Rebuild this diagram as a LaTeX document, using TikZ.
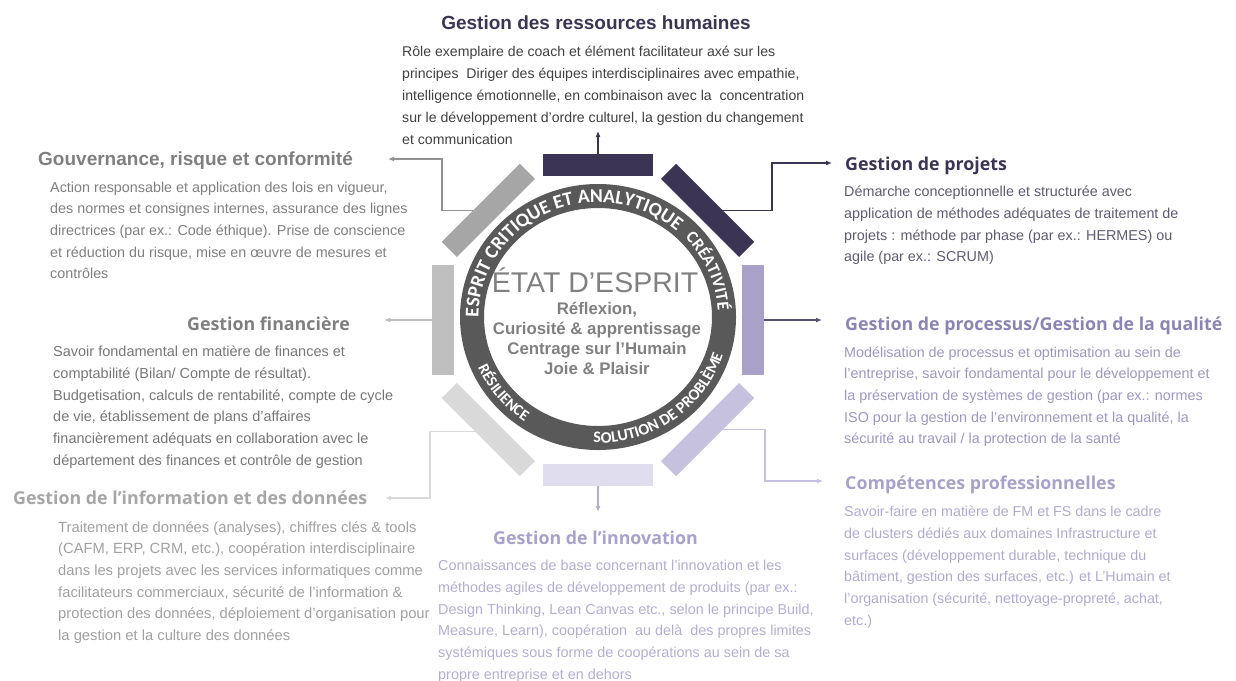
\documentclass[tikz,border=0pt]{standalone}
\usepackage{fontspec}
\setmainfont{Liberation Sans}
\newfontfamily\osans{Open Sans}
\newfontfamily\carlito{Carlito}
\usetikzlibrary{arrows.meta,decorations.text}
\definecolor{dpurp}{HTML}{3C3454}
\definecolor{hrbody}{HTML}{404040}
\definecolor{govcol}{HTML}{7F7F7F}
\definecolor{fincol}{HTML}{7F7F7F}
\definecolor{finbody}{HTML}{767676}
\definecolor{infocol}{HTML}{A6A6A6}
\definecolor{infobody}{HTML}{A0A0A0}
\definecolor{projbody}{HTML}{5F5A72}
\definecolor{prochead}{HTML}{8C84B4}
\definecolor{procbody}{HTML}{9D96C2}
\definecolor{comphead}{HTML}{A8A1C9}
\definecolor{compbody}{HTML}{B0AAD0}
\definecolor{innohead}{HTML}{A8A1C9}
\definecolor{innobody}{HTML}{B3ADD2}
\definecolor{barR}{HTML}{A9A1C7}
\definecolor{barBR}{HTML}{C6C1DE}
\definecolor{barB}{HTML}{E0DDEE}
\definecolor{barBL}{HTML}{D9D9D9}
\definecolor{barL}{HTML}{BFBFBF}
\definecolor{barTL}{HTML}{A6A6A6}
\definecolor{ringcol}{HTML}{595959}
\definecolor{centcol}{HTML}{808080}
\tikzset{
  bodytxt/.style={anchor=north west, inner sep=0pt, align=left, font=\fontsize{#1}{21.7}\selectfont},
  bodytxt/.default=14.4,
  headA/.style={anchor=base west, inner sep=0pt, font=\fontsize{19}{22}\selectfont\bfseries},
  headB/.style={anchor=base west, inner sep=0pt, font=\osans\fontsize{17.8}{22}\selectfont\bfseries},
  barbox/.style={minimum width=110pt, minimum height=21pt, inner sep=0pt, draw=none},
  conn/.style={line width=1.2pt, -{Latex[length=6pt,width=5pt]}},
  ringtxt/.style 2 args={decorate, decoration={text along path, text align=center,
     text={|\carlito\bfseries\fontsize{#1}{#1}\selectfont\color{white}|#2}}}
}
\begin{document}
\begin{tikzpicture}[x=1pt,y=-1pt]
\useasboundingbox (0,0) rectangle (1236,680);

% ---------- headings ----------
\node[headA, anchor=base, text=dpurp] (hHR) at (596,29.5) {Gestion des ressources humaines};
\node[headA, text=govcol] (hGov) at (38,165.5) {Gouvernance, risque et conformité};
\node[headB, anchor=base east, text=fincol] (hFin) at (350,330.5) {Gestion financière};
\node[headB, text=infocol] (hInfo) at (13,504.5) {Gestion de l’information et des données};
\node[headB, text=innohead] (hInno) at (493,544.5) {Gestion de l’innovation};
\node[headB, text=dpurp] (hProj) at (845,170) {Gestion de projets};
\node[headB, text=prochead] (hProc) at (845,330) {Gestion de processus/Gestion de la qualité};
\node[headB, text=comphead] (hComp) at (845,489.5) {Compétences professionnelles};

% ---------- body texts ----------
\node[bodytxt, text=hrbody, font=\fontsize{14.1}{22}\selectfont] (tHR) at (402,41) {\strut Rôle exemplaire de coach et élément facilitateur axé sur les\\
principes\ \ Diriger des équipes interdisciplinaires avec empathie,\\
intelligence émotionnelle, en combinaison avec la\ \ concentration\\
sur le développement d’ordre culturel, la gestion du changement\\
et communication};

\node[bodytxt=14.35, text=govcol] (tGov) at (50,176.8) {\strut Action responsable et application des lois en vigueur,\\
des normes et consignes internes, assurance des lignes\\
directrices (par ex.: Code éthique). Prise de conscience\\
et réduction du risque, mise en œuvre de mesures et\\
contrôles};

\node[bodytxt=14.5, text=finbody] (tFin) at (53,341.5) {\strut Savoir fondamental en matière de finances et\\
comptabilité (Bilan/ Compte de résultat).\\
Budgetisation, calculs de rentabilité, compte de cycle\\
de vie, établissement de plans d’affaires\\
financièrement adéquats en collaboration avec le\\
département des finances et contrôle de gestion};

\node[bodytxt=14.75, text=infobody] (tInfo) at (58,516.8) {\strut Traitement de données (analyses), chiffres clés \& tools\\
(CAFM, ERP, CRM, etc.), coopération interdisciplinaire\\
dans les projets avec les services informatiques comme\\
facilitateurs commerciaux, sécurité de l’information \&\\
protection des données, déploiement d’organisation pour\\
la gestion et la culture des données};

\node[bodytxt=14.4, text=innobody] (tInno) at (438,555.5) {\strut Connaissances de base concernant l’innovation et les\\
méthodes agiles de développement de produits (par ex.:\\
Design Thinking, Lean Canvas etc., selon le principe Build,\\
Measure, Learn), coopération\ \ au delà\ \ des propres limites\\
systémiques sous forme de coopérations au sein de sa\\
propre entreprise et en dehors};

\node[bodytxt=14.35, text=projbody] (tProj) at (844,181.3) {\strut Démarche conceptionnelle et structurée avec\\
application de méthodes adéquates de traitement de\\
projets : méthode par phase (par ex.: HERMES) ou\\
agile (par ex.: SCRUM)};

\node[bodytxt=14.35, text=procbody] (tProc) at (844,341.8) {\strut Modélisation de processus et optimisation au sein de\\
l’entreprise, savoir fondamental pour le développement et\\
la préservation de systèmes de gestion (par ex.: normes\\
ISO pour la gestion de l’environnement et la qualité, la\\
sécurité au travail / la protection de la santé};

\node[bodytxt=14.3, text=compbody] (tComp) at (844,501.3) {\strut Savoir-faire en matière de FM et FS dans le cadre\\
de clusters dédiés aux domaines Infrastructure et\\
surfaces (développement durable, technique du\\
bâtiment, gestion des surfaces, etc.) et L’Humain et\\
l’organisation (sécurité, nettoyage-propreté, achat,\\
etc.)};

% ---------- arrow end points ----------
\coordinate (aHR) at (598,131);
\coordinate (aGov) at (388,159);
\coordinate (aFin) at (384,320);
\coordinate (aInfo) at (385,498);
\coordinate (aInno) at (598,512);
\coordinate (aProj) at (832,163);
\coordinate (aProc) at (822,320);
\coordinate (aComp) at (823,481);

% ---------- bars (positions only, drawn after connectors) ----------
\path (598,165) node[barbox] (bT) {};
\path (707.6,210.4) node[barbox, rotate=-45] (bTR) {};
\path (753,320) node[barbox, rotate=90] (bR) {};
\path (707.6,429.6) node[barbox, rotate=45] (bBR) {};
\path (598,475) node[barbox] (bB) {};
\path (488.4,429.6) node[barbox, rotate=-45] (bBL) {};
\path (443,320) node[barbox, rotate=90] (bL) {};
\path (488.4,210.4) node[barbox, rotate=45] (bTL) {};

% ---------- connectors ----------
\draw[conn, dpurp] (bT.center) -- (aHR);
\draw[conn, govcol!85] (bTL.center) -| (442,159) -- (aGov);
\draw[conn, barL] (bL.center) -- (aFin);
\draw[conn, barBL] (bBL.center) ++(0,1.5) -| (430,498) -- (aInfo);
\draw[conn, barBR!90!black] (bB.center) -- (aInno);
\draw[conn, dpurp] (bTR.center) -| (772,163) -- (aProj);
\draw[conn, dpurp!85] (bR.center) -- (aProc);
\draw[conn, barBR] (bBR.center) -| (765,481) -- (aComp);

% ---------- bars drawn ----------
\fill[dpurp] (bT.north west) -- (bT.north east) -- (bT.south east) -- (bT.south west) -- cycle;
\fill[dpurp] (bTR.north west) -- (bTR.north east) -- (bTR.south east) -- (bTR.south west) -- cycle;
\fill[barR] (bR.north west) -- (bR.north east) -- (bR.south east) -- (bR.south west) -- cycle;
\fill[barBR] (bBR.north west) -- (bBR.north east) -- (bBR.south east) -- (bBR.south west) -- cycle;
\fill[barB] (bB.north west) -- (bB.north east) -- (bB.south east) -- (bB.south west) -- cycle;
\fill[barBL] (bBL.north west) -- (bBL.north east) -- (bBL.south east) -- (bBL.south west) -- cycle;
\fill[barL] (bL.north west) -- (bL.north east) -- (bL.south east) -- (bL.south west) -- cycle;
\fill[barTL] (bTL.north west) -- (bTL.north east) -- (bTL.south east) -- (bTL.south west) -- cycle;

% ---------- ring ----------
\fill[ringcol, even odd rule] (598,317) ellipse [x radius=138, y radius=133]
                               (598,317) ellipse [x radius=114, y radius=109];

\begin{scope}[shift={(598,317)}, y=1pt]
  \path[ringtxt={19.5}{ESPRIT CRITIQUE ET ANALYTIQUE}]
     (189.5:119.5 and 114.5) arc[start angle=189.5, end angle=39.5, x radius=119.5, y radius=114.5];
  \path[ringtxt={17}{CRÉATIVITÉ}]
     (70:120 and 115) arc[start angle=70, end angle=-24, x radius=120, y radius=115];
  \path[ringtxt={15.5}{RÉSILIENCE}]
     (184.5:131 and 126) arc[start angle=184.5, end angle=254.5, x radius=131, y radius=126];
  \path[ringtxt={16}{SOLUTION DE PROBLÈME}]
     (255.5:131 and 126) arc[start angle=255.5, end angle=355.5, x radius=131, y radius=126];
\end{scope}

% ---------- centre ----------
\node[anchor=base, inner sep=0pt, text=centcol, font=\fontsize{28.5}{30}\selectfont] (etat) at (595,292.5) {ÉTAT D’ESPRIT};
\node[anchor=north, inner sep=0pt, align=center, text=centcol, font=\fontsize{16.8}{20}\selectfont\bfseries] (qual) at (597,300.5)
  {\strut Réflexion,\\ Curiosité \& apprentissage\\ Centrage sur l’Humain\\ Joie \& Plaisir};
\end{tikzpicture}
\end{document}
